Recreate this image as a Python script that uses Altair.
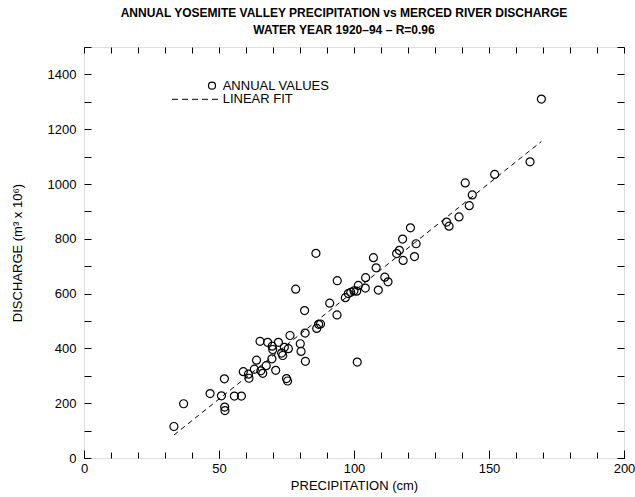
import altair as alt
import pandas as pd

# Annual precipitation (cm) and Merced River discharge (m^3 x 10^6), water years 1920-94
precip = [33.3, 36.9, 46.7, 50.9, 52.0, 52.1, 52.2, 55.7, 58.3, 59.0,
          60.9, 61.1, 63.1, 63.9, 65.2, 65.5, 66.2, 67.5, 68.0, 69.7,
          69.9, 69.6, 71.0, 72.0, 73.2, 73.6, 74.2, 75.7, 75.0, 75.4,
          76.3, 78.4, 80.1, 80.4, 81.9, 81.7, 82.0, 85.9, 86.2, 86.9,
          87.6, 91.0, 93.7, 93.8, 96.8, 97.9, 98.8, 100.0, 101.0, 101.6,
          101.2, 104.2, 104.3, 107.2, 108.2, 109.0, 111.4, 112.6, 115.8, 116.8,
          118.2, 118.0, 120.9, 123.0, 122.4, 134.3, 135.2, 138.9, 142.7, 143.8,
          141.2, 152.1, 165.2, 169.4]
discharge = [115, 198, 235, 227, 289, 186, 173, 226, 226, 315,
             306, 291, 324, 357, 426, 318, 309, 337, 422, 408,
             396, 362, 320, 422, 383, 374, 404, 399, 290, 281,
             447, 616, 417, 389, 456, 538, 353, 747, 473, 488,
             489, 565, 522, 647, 585, 600, 605, 610, 609, 630,
             350, 620, 658, 731, 694, 613, 660, 643, 746, 758,
             721, 799, 840, 782, 735, 861, 846, 880, 921, 960,
             1004, 1035, 1081, 1310]

x_minor_ticks = list(range(0, 201, 10))
x_major_ticks = list(range(0, 201, 50))
y_ticks = list(range(0, 1501, 100))
legend_labels = ["ANNUAL VALUES", "LINEAR FIT"]

df = pd.DataFrame({"precip": precip, "discharge": discharge})

FONT = "Liberation Sans"

x_scale = alt.Scale(domain=[0, 200], nice=False, zero=False)
y_scale = alt.Scale(domain=[0, 1500], nice=False, zero=False)

common = dict(domain=False, grid=False, tickColor="black", tickWidth=1,
              labelColor="black", titleColor="black", labelFont=FONT,
              titleFont=FONT, labelFontSize=13, titleFontSize=13,
              titleFontWeight="normal", labelOverlap=False)

# inward-pointing ticks: shift each axis inside the frame by its tick length
x_minor_axis = alt.Axis(orient="bottom", values=x_minor_ticks, tickSize=6, offset=-6,
                        labels=False, title=None, **common)
x_major_axis = alt.Axis(orient="bottom", values=x_major_ticks, tickSize=8, offset=-8,
                        labelPadding=4, labelFlush=False, format="d",
                        title="PRECIPITATION (cm)", titlePadding=4, **common)
x_top_axis = alt.Axis(orient="top", values=x_minor_ticks, tickSize=6, offset=-6,
                      labels=False, title=None, **common)
y_left_axis = alt.Axis(orient="left", values=y_ticks, tickSize=7, offset=-7,
                       labelPadding=8, labelFlush=False,
                       labelExpr="datum.value % 200 === 0 ? format(datum.value, 'd') : ''",
                       title="DISCHARGE (m³ x 10⁶)", titlePadding=23, **common)
y_right_axis = alt.Axis(orient="right", values=y_ticks, tickSize=7, offset=-7,
                        labels=False, title=None, **common)

points = alt.Chart(df).mark_point(
    shape="circle", filled=False, size=64, stroke="black", strokeWidth=1.2, opacity=1
).encode(
    x=alt.X("precip:Q", scale=x_scale, axis=x_minor_axis),
    y=alt.Y("discharge:Q", scale=y_scale, axis=y_left_axis),
)

fit = alt.Chart(df).transform_regression(
    "precip", "discharge"
).mark_line(color="black", strokeWidth=1, strokeDash=[5, 4]).encode(
    x=alt.X("precip:Q", scale=x_scale, axis=x_major_axis),
    y=alt.Y("discharge:Q", scale=y_scale, axis=y_right_axis),
)

top_ticks = alt.Chart(df).mark_point(opacity=0).encode(
    x=alt.X("precip:Q", scale=x_scale, axis=x_top_axis),
    y=alt.Y("discharge:Q", scale=y_scale, axis=None),
)

# key in the upper left of the frame
key_points = pd.DataFrame({"label": legend_labels[:1]})
key_fit = pd.DataFrame({"label": legend_labels[1:]})

key_circle = alt.Chart(key_points).mark_point(
    shape="circle", filled=False, size=49, stroke="black", strokeWidth=1.2, opacity=1
).encode(x=alt.value(128), y=alt.value(38.7))

key_line = alt.Chart(key_fit).mark_rule(
    color="black", strokeWidth=1, strokeDash=[6, 4]
).encode(x=alt.value(88), x2=alt.value(134), y=alt.value(52.3))

key_text1 = alt.Chart(key_points).mark_text(
    align="left", baseline="middle", font=FONT, fontSize=13, color="black"
).encode(x=alt.value(138.7), y=alt.value(38.7), text="label:N")

key_text2 = alt.Chart(key_fit).mark_text(
    align="left", baseline="middle", font=FONT, fontSize=13, color="black"
).encode(x=alt.value(138.7), y=alt.value(52.3), text="label:N")

chart = alt.layer(
    points, fit, top_ticks, key_circle, key_line, key_text1, key_text2
).resolve_axis(
    x="independent", y="independent"
).properties(
    width=540,
    height=411,
    autosize=alt.AutoSizeParams(type="none"),
    padding={"left": 84, "top": 47, "right": 11, "bottom": 39},
    title=alt.Title(
        "ANNUAL YOSEMITE VALLEY PRECIPITATION vs MERCED RIVER DISCHARGE",
        subtitle="WATER YEAR 1920–94 – R=0.96",
        font=FONT, fontSize=12, fontWeight="bold", color="black",
        subtitleFont=FONT, subtitleFontSize=12, subtitleFontWeight="bold",
        subtitleColor="black", subtitlePadding=5,
        anchor="middle", dx=-10, offset=4,
    ),
).configure_view(
    stroke="black", strokeWidth=1.3
).configure(background="white")

chart.save("out.html", embed_options={"renderer": "svg", "actions": False})
